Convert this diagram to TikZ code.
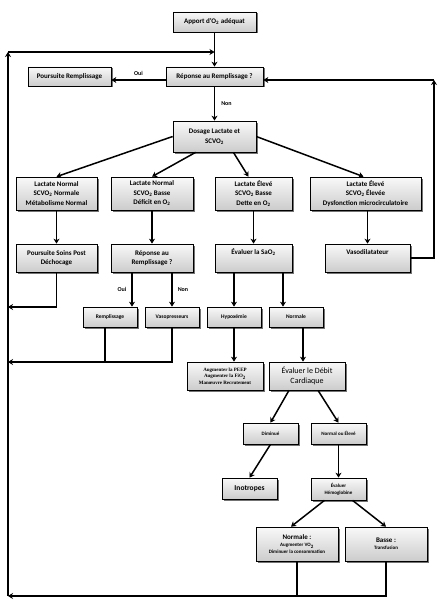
\documentclass[tikz,border=0pt]{standalone}
\usepackage{fontspec}
\setmainfont{Carlito}
\newfontfamily\boxserif{Liberation Serif}
\usetikzlibrary{arrows.meta,shadows}
\begin{document}
\begin{tikzpicture}[x=1pt,y=-1pt,>={Stealth[length=5pt,width=6pt]}]
        \useasboundingbox (0,0) rectangle (442,615);
        \begin{scope}[every node/.style={draw=black,line width=0.7pt,top color=gray!5,bottom color=gray!40,
            drop shadow={shadow xshift=1.5pt,shadow yshift=-1.5pt,fill=black!55,opacity=1},
            align=center,inner sep=1pt,font=\bfseries\fontsize{7}{9.5}\selectfont}]
          \node[minimum width=83pt,minimum height=20pt] (AO) at (214.5,22) {Apport d'O\textsubscript{2} adéquat};
          \node[minimum width=97pt,minimum height=19pt] (RR) at (214.5,76.5) {Réponse au Remplissage ?};
          \node[minimum width=83pt,minimum height=19pt] (PR) at (69.5,76.5) {Poursuite Remplissage};
          \node[minimum width=83pt,minimum height=31pt] (DL) at (214.5,136.5) {Dosage Lactate et\\SCVO\textsubscript{2}};
          \node[minimum width=81pt,minimum height=33pt] (L1) at (56.5,193.5) {Lactate Normal\\SCVO\textsubscript{2} Normale\\Métabolisme Normal};
          \node[minimum width=82pt,minimum height=33pt] (L2) at (152,193.5) {Lactate Normal\\SCVO\textsubscript{2} Basse\\Déficit en O\textsubscript{2}};
          \node[minimum width=77pt,minimum height=33pt] (L3) at (253.5,193.5) {Lactate Élevé\\SCVO\textsubscript{2} Basse\\Dette en O\textsubscript{2}};
          \node[minimum width=111pt,minimum height=33pt] (L4) at (365.5,193.5) {Lactate Élevé\\SCVO\textsubscript{2} Élevée\\Dysfonction microcirculatoire};
          \node[minimum width=81pt,minimum height=28pt] (PS) at (56.5,258) {Poursuite Soins Post\\Déchocage};
          \node[minimum width=82pt,minimum height=28pt] (R2) at (152,258) {Réponse au\\Remplissage ?};
          \node[minimum width=77pt,minimum height=28pt,text height=9pt,text depth=17pt] (ES) at (253.5,258) {Évaluer la SaO\textsubscript{2}};
          \node[minimum width=85pt,minimum height=28pt,text height=9pt,text depth=17pt] (VD) at (367.5,258) {Vasodilatateur};
          % petites boites
          \node[minimum width=54pt,minimum height=20pt,font=\bfseries\fontsize{5.5}{7}\selectfont] (RE) at (110,317) {Remplissage};
          \node[minimum width=54pt,minimum height=20pt,font=\bfseries\fontsize{5.5}{7}\selectfont] (VP) at (172,317) {Vasopresseurs};
          \node[minimum width=54pt,minimum height=20pt,font=\bfseries\fontsize{5.5}{7}\selectfont] (HY) at (234,317) {Hypoxémie};
          \node[minimum width=54pt,minimum height=20pt,font=\bfseries\fontsize{5.5}{7}\selectfont] (NO) at (296,317) {Normale};
          \node[minimum width=76pt,minimum height=28pt,font=\boxserif\bfseries\fontsize{5}{6.5}\selectfont] (AU) at (225,376) {Augmenter la PEEP\\Augmenter la FiO\textsubscript{2}\\Manœuvre Recrutement};
          \node[minimum width=76pt,minimum height=28pt,font=\fontsize{8}{9.5}\selectfont] (ED) at (307,376) {Évaluer le Débit\\Cardiaque};
          \node[minimum width=55pt,minimum height=21pt,font=\bfseries\fontsize{5}{6.5}\selectfont] (DI) at (270.5,433.5) {Diminué};
          \node[minimum width=55pt,minimum height=21pt,font=\bfseries\fontsize{5}{6.5}\selectfont] (NE) at (338.5,433.5) {Normal ou Élevé};
          \node[minimum width=55pt,minimum height=21pt,font=\bfseries\fontsize{7.5}{9}\selectfont] (IN) at (249.5,488.5) {Inotropes};
          \node[minimum width=55pt,minimum height=22pt,font=\bfseries\fontsize{5}{7}\selectfont] (EH) at (338.5,489) {Évaluer\\Hémoglobine};
          \node[minimum width=82pt,minimum height=34pt,font=\bfseries\fontsize{5}{7}\selectfont] (NM) at (297,544) {{\fontsize{7}{8}\selectfont Normale :}\\Augmenter VO\textsubscript{2}\\Diminuer la consommation};
          \node[minimum width=82pt,minimum height=34pt,font=\bfseries\fontsize{5}{7}\selectfont] (BA) at (386,544) {{\fontsize{7}{8}\selectfont Basse :}\\Transfusion};
        \end{scope}
        % points de retour
        \coordinate (T0) at (8,52);
        \coordinate (TM) at (214.5,52);
        \coordinate (P0) at (8,307);
        \coordinate (Q0) at (8,362);
        \coordinate (B0) at (8,596);
        \coordinate (RB) at (434,258);
        \coordinate (RT) at (434,80);
        \begin{scope}[every edge/.style={draw=black,line width=1.5pt,->},
            every node/.style={font=\bfseries\fontsize{6}{7}\selectfont,inner sep=1pt}]
          \path (AO) edge (RR);
          \path ([yshift=-3.5pt]RR.west) edge node[above=3pt] {Oui} ([yshift=-3.5pt]PR.east);
          \path (RR) edge node[right=5pt] {Non} (DL);
          \path (DL.west) edge (L1.north);
          \path (DL.220) edge (L2.north);
          \path (DL.320) edge ([xshift=-5pt]L3.north);
          \path (DL.east) edge ([xshift=-2pt]L4.north);
          \path (L1) edge (PS);
          \path (L2) edge (R2);
          \path (L3) edge (ES);
          \path (L4.south -| VD) edge (VD);
          \path ([xshift=-20pt]R2.south) edge node[left=4pt] {Oui} ([xshift=-20pt]R2.south |- RE.north);
          \path (R2.south -| VP) edge node[right=4pt] {Non} (VP.north);
          \path (ES.south -| HY) edge (HY.north);
          \path ([xshift=29.5pt]ES.south) edge ([xshift=29.5pt]ES.south |- NO.north);
          \path (HY.south) edge (HY.south |- AU.north);
          \path ([xshift=7pt]NO.south) edge ([xshift=7pt]NO.south |- ED.north);
          \path ([xshift=-18pt]ED.south) edge (DI.north);
          \path ([xshift=11pt]ED.south) edge (NE.north);
          \path (DI.south) edge (IN.north);
          \path (NE) edge (EH);
          \path ([xshift=-14pt]EH.south) edge ([xshift=-6pt]NM.north);
          \path ([xshift=14pt]EH.south) edge (BA.north);
          \path (B0) edge (T0);
          \path (T0) edge (TM);
          \path (RT) edge (RR.east |- RT);
        \end{scope}
        \begin{scope}[line width=1.1pt]
          \draw[->,line width=1.5pt] (PS.south) |- (P0);
          \draw ([xshift=-5pt]RE.south) -- ([xshift=-5pt]RE.south |- Q0);
          \draw[->] (VP.south) |- (Q0);
          \draw (NM.south) -- (NM.south |- B0);
          \draw[->,line width=1.5pt] (BA.south) |- (B0);
          \draw[->,line width=1.5pt] (VD.east) -| (RT);
        \end{scope}
      \end{tikzpicture}
\end{document}
